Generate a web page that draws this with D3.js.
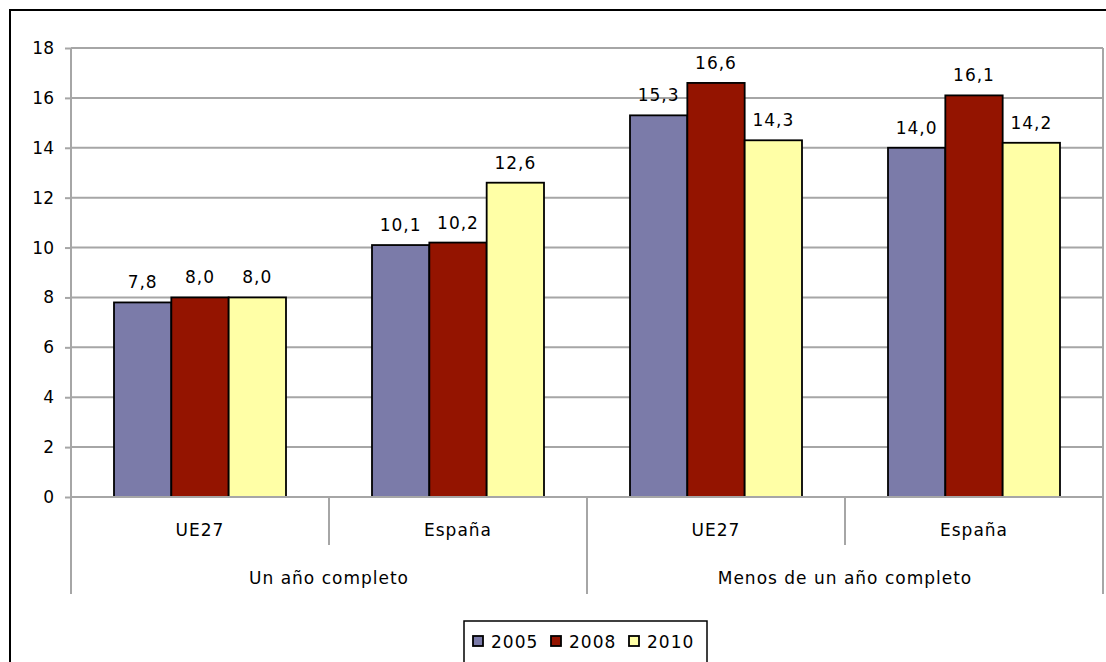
<!DOCTYPE html>
<html>
<head>
<meta charset="utf-8">
<script src="https://cdn.jsdelivr.net/npm/d3@7"></script>
<style>
  body { margin: 0; background: #fff; }
  svg text { font-family: "DejaVu Sans", sans-serif; fill: #000; }
</style>
</head>
<body>
<div id="chart"></div>
<script>
var groups = ["Un año completo", "Menos de un año completo"];
var categories = ["UE27", "España", "UE27", "España"];
var seriesNames = ["2005", "2008", "2010"];
var values2005 = [7.8, 10.1, 15.3, 14.0];
var values2008 = [8.0, 10.2, 16.6, 16.1];
var values2010 = [8.0, 12.6, 14.3, 14.2];
var yTicks = [0, 2, 4, 6, 8, 10, 12, 14, 16, 18];
var colors = ["#7b7ba9", "#941400", "#ffffa6"];

var width = 1106, height = 662;
var plot = {left: 71, right: 1103, top: 48, bottom: 497};

var svg = d3.select("#chart").append("svg")
    .attr("width", width)
    .attr("height", height);

// outer frame
svg.append("rect")
    .attr("x", 10).attr("y", 10)
    .attr("width", 1200).attr("height", 800)
    .attr("fill", "none")
    .attr("stroke", "#000")
    .attr("stroke-width", 2);

var y = d3.scaleLinear().domain([0, 18]).range([plot.bottom, plot.top]);

var catIdx = d3.range(categories.length);
var x0 = d3.scaleBand().domain(catIdx).range([plot.left, plot.right]).paddingInner(0).paddingOuter(0);
var x1 = d3.scaleBand().domain(seriesNames).range([43, x0.bandwidth() - 43]);

// gridlines
svg.append("g").selectAll("line")
    .data(yTicks.filter(function(d){ return d > 0; }))
    .enter().append("line")
    .attr("x1", plot.left).attr("x2", plot.right)
    .attr("y1", function(d){ return y(d); })
    .attr("y2", function(d){ return y(d); })
    .attr("stroke", "#a6a6a6").attr("stroke-width", 2);

// right edge of plot area
svg.append("line")
    .attr("x1", plot.right).attr("x2", plot.right)
    .attr("y1", plot.top).attr("y2", plot.bottom)
    .attr("stroke", "#a6a6a6").attr("stroke-width", 2);

// y axis
var yAxis = svg.append("g")
    .attr("transform", "translate(" + plot.left + ",0)")
    .call(d3.axisLeft(y).tickValues(yTicks).tickSize(6).tickPadding(11).tickFormat(d3.format("d")));
yAxis.select(".domain").remove();
yAxis.append("line").attr("x1", 0).attr("x2", 0).attr("y1", plot.top).attr("y2", plot.bottom)
    .attr("stroke", "#a6a6a6").attr("stroke-width", 2);
yAxis.selectAll(".tick line").attr("stroke", "#a6a6a6").attr("stroke-width", 2);
yAxis.selectAll(".tick text").style("font-size", "17px").style("font-family", "DejaVu Sans").attr("fill", "#000");

// bars
var data = catIdx.map(function(i){
    return [values2005[i], values2008[i], values2010[i]];
});

var barG = svg.append("g").selectAll("g")
    .data(data).enter().append("g")
    .attr("transform", function(d, i){ return "translate(" + x0(i) + ",0)"; });

barG.selectAll("rect")
    .data(function(d){ return d.map(function(v, j){ return {v: v, s: seriesNames[j], j: j}; }); })
    .enter().append("rect")
    .attr("x", function(d){ return x1(d.s); })
    .attr("width", x1.bandwidth())
    .attr("y", function(d){ return y(d.v); })
    .attr("height", function(d){ return y(0) - y(d.v); })
    .attr("fill", function(d){ return colors[d.j]; })
    .attr("stroke", "#000").attr("stroke-width", 1.8);

barG.selectAll("text")
    .data(function(d){ return d.map(function(v, j){ return {v: v, s: seriesNames[j]}; }); })
    .enter().append("text")
    .attr("x", function(d){ return x1(d.s) + x1.bandwidth() / 2; })
    .attr("y", function(d){ return y(d.v) - 14; })
    .attr("text-anchor", "middle")
    .style("font-size", "17px")
    .style("letter-spacing", "1px")
    .text(function(d){ return d3.format(".1f")(d.v).replace(".", ","); });

// x axis baseline
svg.append("line")
    .attr("x1", plot.left).attr("x2", plot.right)
    .attr("y1", plot.bottom).attr("y2", plot.bottom)
    .attr("stroke", "#a6a6a6").attr("stroke-width", 2);

// category separators: long at group edges, short inside groups
var edges = d3.range(categories.length + 1);
svg.append("g").selectAll("line")
    .data(edges).enter().append("line")
    .attr("x1", function(d){ return plot.left + d * x0.bandwidth(); })
    .attr("x2", function(d){ return plot.left + d * x0.bandwidth(); })
    .attr("y1", plot.bottom)
    .attr("y2", function(d){ return d % 2 === 0 ? 594 : 545; })
    .attr("stroke", "#a6a6a6").attr("stroke-width", 2);

svg.append("g").selectAll("text")
    .data(catIdx).enter().append("text")
    .attr("x", function(d){ return x0(d) + x0.bandwidth() / 2; })
    .attr("y", 536)
    .attr("text-anchor", "middle")
    .style("font-size", "17px")
    .style("letter-spacing", "1px")
    .text(function(d){ return categories[d]; });

svg.append("g").selectAll("text")
    .data(groups).enter().append("text")
    .attr("x", function(d, i){ return x0(i * 2) + x0.bandwidth(); })
    .attr("y", 584)
    .attr("text-anchor", "middle")
    .style("font-size", "17px")
    .style("letter-spacing", "1px")
    .text(function(d){ return d; });

// legend
var legend = svg.append("g").attr("transform", "translate(464,621)");
legend.append("rect")
    .attr("x", 0).attr("y", 0).attr("width", 243).attr("height", 60)
    .attr("fill", "#fff").attr("stroke", "#000").attr("stroke-width", 1.5);

var legItem = legend.selectAll("g.item")
    .data(seriesNames).enter().append("g")
    .attr("class", "item")
    .attr("transform", function(d, i){ return "translate(" + (9 + i * 78) + ",0)"; });
legItem.append("rect")
    .attr("x", 0).attr("y", 15).attr("width", 10).attr("height", 10)
    .attr("fill", function(d, i){ return colors[i]; })
    .attr("stroke", "#000").attr("stroke-width", 1.8);
legItem.append("text")
    .attr("x", 18).attr("y", 27)
    .style("font-size", "17px")
    .style("letter-spacing", "1px")
    .text(function(d){ return d; });
</script>
</body>
</html>
